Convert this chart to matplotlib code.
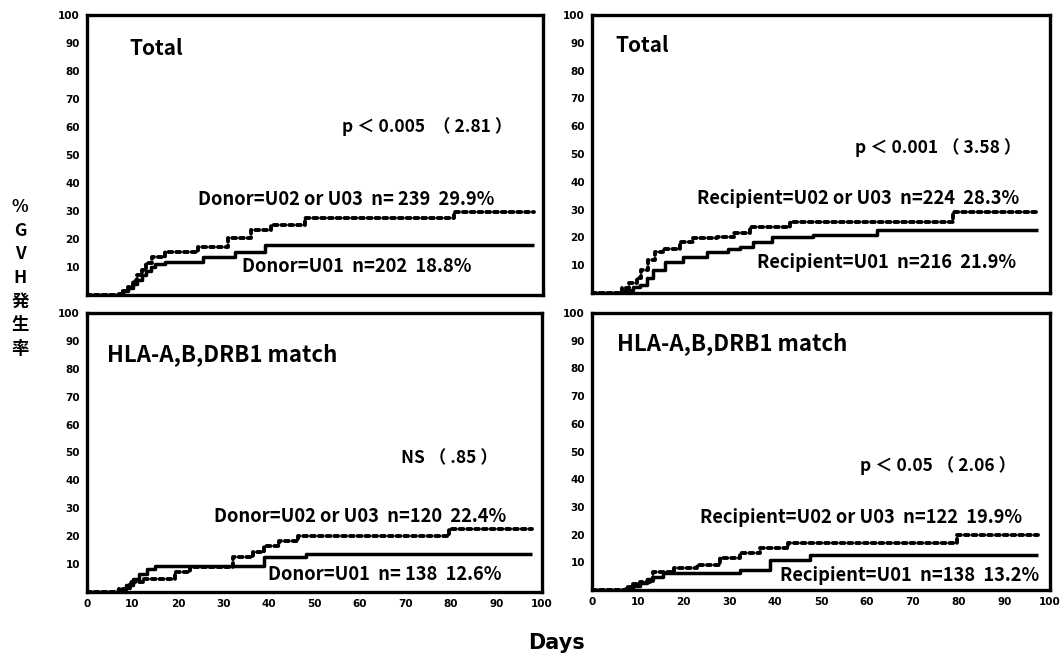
import matplotlib
matplotlib.use("Agg")
import matplotlib.pyplot as plt
from matplotlib.ticker import FixedLocator

plt.rcParams['font.family'] = ['Noto Sans CJK JP', 'DejaVu Sans']

# ---------------- data ----------------
# Top-left: Donor, Total
tl_u23_x = [0, 7, 8, 9, 10, 11, 12, 13, 14.3, 17.1, 24.3, 30.9, 36, 40.4, 47.7, 80.5, 98]
tl_u23_y = [0, 0.5, 1.5, 3, 5, 7, 9, 11.5, 13.7, 15.5, 17.3, 20.2, 23.2, 25, 27.4, 29.8, 29.8]
tl_u01_x = [0, 6.8, 8, 9, 10, 11, 12, 13, 14, 15, 17.1, 25.5, 32.5, 39, 98]
tl_u01_y = [0, 0.5, 1.5, 2.5, 4, 5.5, 7, 8.5, 10, 11, 11.9, 13.7, 15.5, 17.9, 17.9]

# Top-right: Recipient, Total
tr_u23_x = [0, 6.5, 8, 9.8, 10.8, 12.3, 13.8, 15.6, 19.2, 22.1, 27.2, 30.9, 34.5, 43.2, 78.9, 97.4]
tr_u23_y = [0, 1.8, 3.5, 5.3, 8.3, 11.9, 14.9, 16, 18.5, 19.7, 20.3, 21.5, 23.9, 25.6, 29.2, 29.2]
tr_u01_x = [0, 7.2, 9, 10.5, 12, 13.3, 15.9, 19.9, 25, 29.8, 32.3, 35.2, 39.2, 48.3, 62.2, 97.4]
tr_u01_y = [0, 1, 2, 2.9, 5.5, 8.3, 11.3, 13, 14.9, 16, 16.7, 18.5, 20.3, 20.9, 22.7, 22.7]

# Bottom-left: Donor, HLA match
bl_u23_x = [0, 7, 9.4, 12.3, 19.3, 22.6, 32.1, 36.5, 39, 42.3, 46.3, 79.6, 97.9]
bl_u23_y = [0, 1, 3.5, 4.6, 7, 8.8, 12.4, 14.2, 16.5, 18.3, 20.1, 22.7, 22.7]
bl_u01_x = [0, 6.9, 8.5, 10, 11.5, 13.1, 14.9, 39, 48.2, 97.9]
bl_u01_y = [0, 1, 2.5, 4.5, 6.5, 8.2, 9.4, 12.4, 13.6, 13.6]

# Bottom-right: Recipient, HLA match
br_u23_x = [0, 7.5, 9, 10.5, 13.4, 17.8, 22.9, 28, 32.3, 36.7, 42.9, 79.6, 97.4]
br_u23_y = [0, 1, 2, 3, 6.6, 7.8, 9, 11.4, 13.2, 15, 16.8, 19.9, 19.9]
br_u01_x = [0, 7.2, 9, 10.5, 12, 13.4, 15.6, 32.3, 38.9, 47.6, 97.4]
br_u01_y = [0, 0.5, 1.5, 2.5, 3.8, 4.8, 6, 7.2, 10.8, 12.6, 12.6]

titles = ["Total", "Total", "HLA-A,B,DRB1 match", "HLA-A,B,DRB1 match"]
pvals = ["p ＜ 0.005  （ 2.81 ）", "p ＜ 0.001 （ 3.58 ）", "NS （ .85 ）", "p ＜ 0.05 （ 2.06 ）"]
lab_u23 = ["Donor=U02 or U03  n= 239  29.9%", "Recipient=U02 or U03  n=224  28.3%",
           "Donor=U02 or U03  n=120  22.4%", "Recipient=U02 or U03  n=122  19.9%"]
lab_u01 = ["Donor=U01  n=202  18.8%", "Recipient=U01  n=216  21.9%",
           "Donor=U01  n= 138  12.6%", "Recipient=U01  n=138  13.2%"]

x_ticks = [0, 10, 20, 30, 40, 50, 60, 70, 80, 90, 100]
y_ticks = [10, 20, 30, 40, 50, 60, 70, 80, 90, 100]

# ---------------- layout ----------------
W, H = 1063, 655
fig = plt.figure(figsize=(W / 100, H / 100), dpi=100)

def rect(l, r, t, b):
    return [l / W, 1 - b / H, (r - l) / W, (b - t) / H]

axes = [fig.add_axes(rect(87, 543, 15, 295)),
        fig.add_axes(rect(592, 1050, 15, 293)),
        fig.add_axes(rect(87, 542, 313, 592)),
        fig.add_axes(rect(592, 1050, 313, 590))]

series = [(tl_u23_x, tl_u23_y, tl_u01_x, tl_u01_y),
          (tr_u23_x, tr_u23_y, tr_u01_x, tr_u01_y),
          (bl_u23_x, bl_u23_y, bl_u01_x, bl_u01_y),
          (br_u23_x, br_u23_y, br_u01_x, br_u01_y)]

# text positions (data coords)
title_pos = [(9.4, 88), (5, 89), (4.4, 85), (5.5, 89)]
title_size = [15, 15, 16, 16]
p_pos = [(56, 60), (57.4, 52.5), (69, 48), (58.5, 45)]
u23_pos = [(24.3, 34), (23, 34), (28, 27), (23.6, 26)]
u01_pos = [(34, 10), (36, 10.8), (39.7, 6.4), (41, 5.4)]

for i, ax in enumerate(axes):
    ux, uy, sx, sy = series[i]
    ax.step(ux, uy, where='post', color='black', lw=2.8, linestyle=(0, (1.0, 1.0)),
            dash_capstyle='round')
    ax.step(sx, sy, where='post', color='black', lw=2.5, solid_capstyle='butt')
    ax.set_xlim(0, 100)
    ax.set_ylim(0, 100)
    for s in ax.spines.values():
        s.set_linewidth(2.4)
    ax.yaxis.set_major_locator(FixedLocator(y_ticks))
    ax.xaxis.set_major_locator(FixedLocator(x_ticks))
    ax.xaxis.set_minor_locator(FixedLocator([20, 30, 40, 50, 60, 70, 80, 90]))
    ax.yaxis.set_minor_locator(FixedLocator([10, 20, 30, 40, 50, 60, 70, 80, 90]))
    ax.tick_params(which='major', length=0, labelsize=7.5, pad=5)
    ax.tick_params(which='minor', direction='in', length=5, width=1.8,
                   top=False, right=False)
    for lab in ax.get_yticklabels():
        lab.set_fontweight('bold')
        lab.set_family('DejaVu Sans')
    if i < 2:
        ax.set_xticklabels([])
    else:
        for lab in ax.get_xticklabels():
            lab.set_fontweight('bold')
            lab.set_family('DejaVu Sans')
    ax.text(*title_pos[i], titles[i], fontsize=title_size[i], va='center', ha='left',
            fontweight='bold')
    ax.text(*p_pos[i], pvals[i], fontsize=12.5, va='center', ha='left', fontweight='bold')
    ax.text(*u23_pos[i], lab_u23[i], fontsize=13.2, va='center', ha='left', fontweight='bold')
    ax.text(*u01_pos[i], lab_u01[i], fontsize=13.2, va='center', ha='left', fontweight='bold')

fig.text(20 / W, 1 - 278 / H, "%\nG\nV\nH\n発\n生\n率", ha='center', va='center',
         fontsize=12.5, fontweight='bold', linespacing=1.4)
fig.text(556 / W, 1 - 643 / H, "Days", ha='center', va='center', fontsize=15,
         fontweight='bold', family='DejaVu Sans')

fig.savefig("out.png", dpi=100, facecolor='white')
